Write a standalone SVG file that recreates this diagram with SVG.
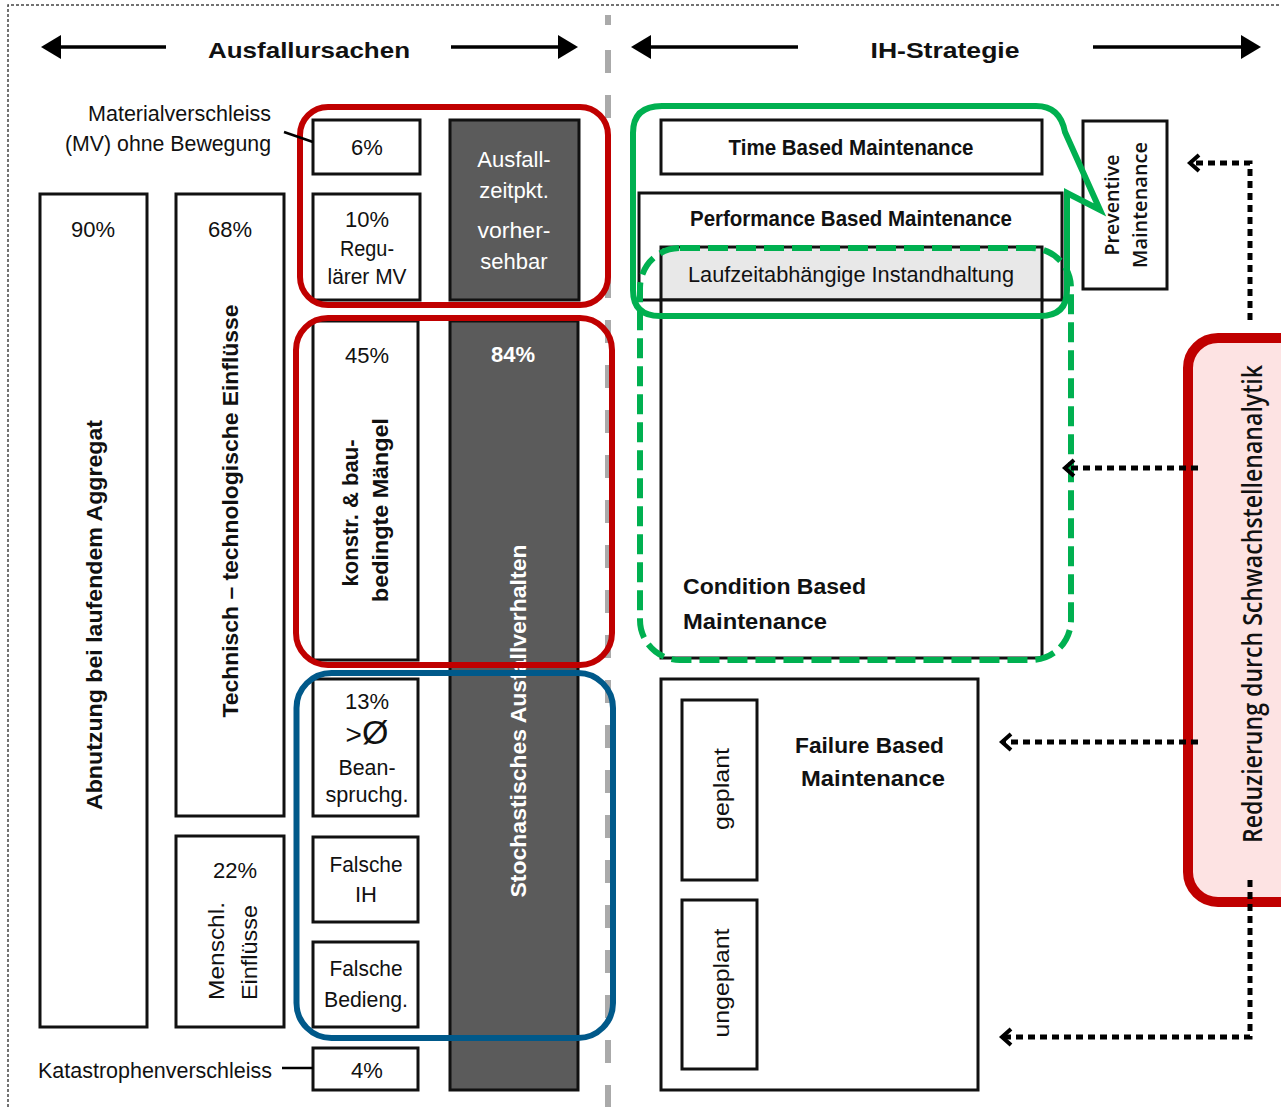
<svg xmlns="http://www.w3.org/2000/svg" width="1281" height="1107" viewBox="0 0 1281 1107">
  <defs>
    <style>
      .box { fill: #fff; stroke: #111; stroke-width: 3; }
      .dark { fill: #5b5b5b; stroke: #111; stroke-width: 3; }
      .grey { fill: #e8e8e8; stroke: #111; stroke-width: 3; }
      .t { font-family: "Liberation Sans", Arial, sans-serif; font-size: 22px; fill: #111; }
      .b { font-weight: bold; }
      .w { fill: #fff; }
      .c { text-anchor: middle; }
      .cal { font-family: "Open Sans", "Liberation Sans", sans-serif; font-weight: 600; fill: #111; }
      .red { fill: none; stroke: #c00000; stroke-width: 6; }
      .blue { fill: none; stroke: #00598a; stroke-width: 6; }
      .green { fill: none; stroke: #00b050; stroke-width: 6; }
      .dot { fill: none; stroke: #000; stroke-width: 5; stroke-dasharray: 7 5; }
      .arr { stroke: #000; stroke-width: 3.5; fill: none; }
      .lead { stroke: #000; stroke-width: 2.5; fill: none; }
    </style>
    <marker id="tri" markerUnits="userSpaceOnUse" markerWidth="22" markerHeight="24" refX="0" refY="12" orient="auto">
      <path d="M0,0 L20,12 L0,24 Z" fill="#000"/>
    </marker>
    <marker id="chev" markerUnits="userSpaceOnUse" markerWidth="16" markerHeight="20" refX="11" refY="10" orient="auto">
      <path d="M2,2 L11,10 L2,18" fill="none" stroke="#000" stroke-width="4"/>
    </marker>
  </defs>

  <rect width="1281" height="1107" fill="#fff"/>

  <!-- frame and column divider -->
  <path d="M8,1107 V5 H1281" fill="none" stroke="#444" stroke-width="1.5" stroke-dasharray="3 2"/>
  <line x1="608" y1="15" x2="608" y2="25" stroke="#aaa" stroke-width="6"/>
  <line x1="608" y1="50" x2="608" y2="1107" stroke="#aaa" stroke-width="6" stroke-dasharray="23 22"/>

  <!-- headings -->
  <g id="heading-causes">
    <text class="t b c" x="309" y="58" font-size="33" textLength="202" lengthAdjust="spacingAndGlyphs">Ausfallursachen</text>
  </g>
  <g id="heading-strategy">
    <text class="t b c" x="945" y="58" font-size="33" textLength="149" lengthAdjust="spacingAndGlyphs">IH-Strategie</text>
  </g>

  <!-- left side: causes -->
  <g id="label-mv">
    <text class="t" x="88" y="121" font-size="21.5" textLength="183" lengthAdjust="spacingAndGlyphs">Materialverschleiss</text>
    <text class="t" x="65" y="151" font-size="21.5" textLength="206" lengthAdjust="spacingAndGlyphs">(MV) ohne Bewegung</text>
  </g>
  <g id="label-katastrophe">
    <text class="t" x="38" y="1078" font-size="21.5" textLength="234" lengthAdjust="spacingAndGlyphs">Katastrophenverschleiss</text>
  </g>

  <g id="abnutzung">
    <rect class="box" x="40" y="194" width="107" height="833"/>
    <text class="t c" x="93" y="237" font-size="25">90%</text>
    <text class="t b c" transform="translate(102,615) rotate(-90)" font-size="26" textLength="390" lengthAdjust="spacingAndGlyphs">Abnutzung bei laufendem Aggregat</text>
  </g>

  <g id="technisch">
    <rect class="box" x="176" y="194" width="108" height="622"/>
    <text class="t c" x="230" y="237" font-size="25">68%</text>
    <text class="t b c" transform="translate(238,511) rotate(-90)" font-size="26" textLength="413" lengthAdjust="spacingAndGlyphs">Technisch – technologische Einflüsse</text>
  </g>

  <g id="menschlich">
    <rect class="box" x="176" y="836" width="108" height="191"/>
    <text class="t c" x="235" y="878" font-size="25">22%</text>
    <text class="t" transform="translate(224,1000) rotate(-90)" font-size="24" textLength="98" lengthAdjust="spacingAndGlyphs">Menschl.</text>
    <text class="t" transform="translate(257,1000) rotate(-90)" font-size="24" textLength="95" lengthAdjust="spacingAndGlyphs">Einflüsse</text>
  </g>

  <g id="mv-ohne-bewegung">
    <rect class="box" x="313" y="120" width="107" height="54"/>
    <text class="t c" x="367" y="155" font-size="25">6%</text>
  </g>

  <g id="regulaerer-mv">
    <rect class="box" x="313" y="194" width="107" height="106"/>
    <text class="t c" x="367" y="227" font-size="25">10%</text>
    <text class="t c" x="367" y="256" textLength="54" lengthAdjust="spacingAndGlyphs">Regu-</text>
    <text class="t c" x="367" y="284" textLength="79" lengthAdjust="spacingAndGlyphs">lärer MV</text>
  </g>

  <g id="vorhersehbar">
    <rect class="dark" x="450" y="120" width="129" height="180"/>
    <text class="t w c" x="514" y="167" font-size="24">Ausfall-</text>
    <text class="t w c" x="514" y="198" font-size="24">zeitpkt.</text>
    <text class="t w c" x="514" y="238" font-size="24" textLength="73" lengthAdjust="spacingAndGlyphs">vorher-</text>
    <text class="t w c" x="514" y="269" font-size="24">sehbar</text>
  </g>

  <g id="maengel">
    <rect class="box" x="313" y="321" width="105" height="339"/>
    <text class="t c" x="367" y="363" font-size="25">45%</text>
    <text class="t b c" transform="translate(358,513) rotate(-90)" font-size="25" textLength="147" lengthAdjust="spacingAndGlyphs">konstr. &amp; bau-</text>
    <text class="t b c" transform="translate(388,510) rotate(-90)" font-size="25" textLength="184" lengthAdjust="spacingAndGlyphs">bedingte Mängel</text>
  </g>

  <g id="stochastisch">
    <rect class="dark" x="450" y="321" width="128" height="769"/>
    <text class="t b w c" x="513" y="362" font-size="24">84%</text>
    <text class="t b w c" transform="translate(526,721) rotate(-90)" font-size="27" textLength="353" lengthAdjust="spacingAndGlyphs">Stochastisches Ausfallverhalten</text>
  </g>

  <g id="beanspruchung">
    <rect class="box" x="313" y="679" width="105" height="137"/>
    <text class="t c" x="367" y="709" font-size="25">13%</text>
    <text class="t c" x="367" y="744"><tspan font-size="28">&gt;</tspan><tspan font-size="34">Ø</tspan></text>
    <text class="t c" x="367" y="775" textLength="57" lengthAdjust="spacingAndGlyphs">Bean-</text>
    <text class="t c" x="367" y="802" textLength="83" lengthAdjust="spacingAndGlyphs">spruchg.</text>
  </g>

  <g id="falsche-ih">
    <rect class="box" x="313" y="837" width="105" height="85"/>
    <text class="t c" x="366" y="872" textLength="73" lengthAdjust="spacingAndGlyphs">Falsche</text>
    <text class="t c" x="366" y="902">IH</text>
  </g>

  <g id="falsche-bedienung">
    <rect class="box" x="313" y="942" width="105" height="85"/>
    <text class="t c" x="366" y="976" textLength="73" lengthAdjust="spacingAndGlyphs">Falsche</text>
    <text class="t c" x="366" y="1007" textLength="84" lengthAdjust="spacingAndGlyphs">Bedieng.</text>
  </g>

  <g id="katastrophe">
    <rect class="box" x="313" y="1048" width="105" height="42"/>
    <text class="t c" x="367" y="1078" font-size="25">4%</text>
  </g>

  <!-- cause groupings -->
  <g id="group-predictable">
    <rect class="red" x="300" y="107" width="308" height="198" rx="28"/>
  </g>
  <g id="group-design">
    <rect class="red" x="296" y="318" width="316" height="347" rx="32"/>
  </g>
  <g id="group-operation">
    <rect class="blue" x="296.5" y="673" width="316.5" height="365" rx="35"/>
  </g>

  <!-- right side: maintenance strategies -->
  <g id="time-based">
    <rect class="box" x="661" y="120" width="381" height="54"/>
    <text class="t b c" x="851" y="155" font-size="26" textLength="245" lengthAdjust="spacingAndGlyphs">Time Based Maintenance</text>
  </g>

  <g id="performance-based">
    <rect class="box" x="639" y="193" width="423" height="107"/>
    <text class="t b c" x="851" y="226" font-size="25" textLength="322" lengthAdjust="spacingAndGlyphs">Performance Based Maintenance</text>
  </g>

  <g id="laufzeit">
    <rect class="grey" x="661" y="247" width="381" height="53"/>
    <text class="t c" x="851" y="282" font-size="24" textLength="326" lengthAdjust="spacingAndGlyphs">Laufzeitabhängige Instandhaltung</text>
  </g>

  <g id="condition-based">
    <rect class="box" x="661" y="300" width="381" height="358"/>
    <text class="t b" x="683" y="594" font-size="26" textLength="183" lengthAdjust="spacingAndGlyphs">Condition Based</text>
    <text class="t b" x="683" y="629" font-size="26" textLength="144" lengthAdjust="spacingAndGlyphs">Maintenance</text>
  </g>

  <g id="preventive">
    <rect class="box" x="1083" y="121" width="84" height="168"/>
    <text class="cal c" transform="translate(1119,205) rotate(-90)" font-size="20" textLength="101" lengthAdjust="spacingAndGlyphs">Preventive</text>
    <text class="cal c" transform="translate(1147,205) rotate(-90)" font-size="20" textLength="126" lengthAdjust="spacingAndGlyphs">Maintenance</text>
  </g>

  <g id="failure-based">
    <rect class="box" x="661" y="679" width="317" height="411"/>
    <text class="t b" x="795" y="753" font-size="26" textLength="149" lengthAdjust="spacingAndGlyphs">Failure Based</text>
    <text class="t b" x="801" y="786" font-size="26" textLength="144" lengthAdjust="spacingAndGlyphs">Maintenance</text>
  </g>

  <g id="geplant">
    <rect class="box" x="682" y="700" width="75" height="180"/>
    <text class="t c" transform="translate(729,789) rotate(-90)" font-size="24" textLength="82" lengthAdjust="spacingAndGlyphs">geplant</text>
  </g>

  <g id="ungeplant">
    <rect class="box" x="682" y="900" width="75" height="169"/>
    <text class="t c" transform="translate(729,983) rotate(-90)" font-size="24" textLength="109" lengthAdjust="spacingAndGlyphs">ungeplant</text>
  </g>

  <!-- strategy groupings -->
  <g id="group-preventive">
    <path class="green" d="M662,106 H1036 Q1060,106 1065,132 L1100,210 L1067,193 V290 Q1067,316 1040,316 H660 Q633,316 633,290 V133 Q633,106 662,106 Z"/>
  </g>
  <g id="group-condition">
    <rect class="green" x="640" y="248" width="431" height="412" rx="40" stroke-dasharray="20 8"/>
  </g>

  <g id="schwachstellenanalytik">
    <rect x="1188" y="338" width="150" height="564" rx="30" fill="#fde3e3" stroke="#c00000" stroke-width="10"/>
    <text class="cal c" transform="translate(1262,604) rotate(-90)" font-size="27" textLength="478" lengthAdjust="spacingAndGlyphs">Reduzierung durch Schwachstellenanalytik</text>
  </g>

  <!-- connectors -->
  <g id="connectors">
    <line class="arr" x1="166" y1="47" x2="61" y2="47" marker-end="url(#tri)"/>
    <line class="arr" x1="451" y1="47" x2="558" y2="47" marker-end="url(#tri)"/>
    <line class="arr" x1="798" y1="47" x2="651" y2="47" marker-end="url(#tri)"/>
    <line class="arr" x1="1093" y1="47" x2="1241" y2="47" marker-end="url(#tri)"/>

    <line class="lead" x1="284" y1="132" x2="313" y2="142"/>
    <line class="lead" x1="282" y1="1068" x2="313" y2="1068"/>

    <path class="dot" d="M1250,320 V163 H1190" marker-end="url(#chev)"/>
    <path class="dot" d="M1198,468 H1065" marker-end="url(#chev)"/>
    <path class="dot" d="M1198,742 H1002" marker-end="url(#chev)"/>
    <path class="dot" d="M1250,880 V1037 H1002" marker-end="url(#chev)"/>
  </g>
</svg>
